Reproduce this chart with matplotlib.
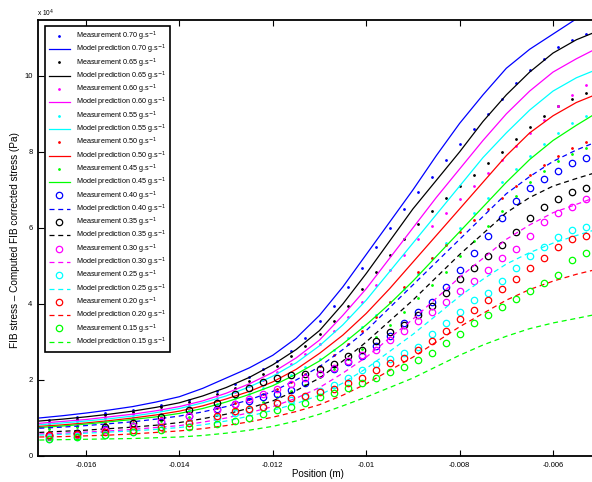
import matplotlib
matplotlib.use("Agg")
import matplotlib.pyplot as plt

plt.rcParams['font.family'] = ['Liberation Sans', 'DejaVu Sans']

# ---------------- data (stress in units of 1e4 Pa) ----------------
concentrations = ["0.70", "0.65", "0.60", "0.55", "0.50", "0.45",
                  "0.40", "0.35", "0.30", "0.25", "0.20", "0.15"]
colors = ["#0000ff", "#000000", "#ff00ff", "#00ffff", "#ff0000", "#00ff00",
          "#0000ff", "#000000", "#ff00ff", "#00ffff", "#ff0000", "#00ff00"]

# model prediction positions (m)
model_x = [-0.0170, -0.0165, -0.0160, -0.0155, -0.0150, -0.0145, -0.0140, -0.0135,
           -0.0130, -0.0125, -0.0120, -0.0115, -0.0110, -0.0105, -0.0100, -0.0095,
           -0.0090, -0.0085, -0.0080, -0.0075, -0.0070, -0.0065, -0.0060, -0.0055,
           -0.0051]
model_070 = [1.00, 1.06, 1.13, 1.21, 1.30, 1.42, 1.56, 1.78, 2.05, 2.32, 2.65, 3.10, 3.70,
             4.45, 5.30, 6.15, 7.00, 7.90, 8.75, 9.50, 10.20, 10.70, 11.10, 11.50, 11.80]
model_065 = [0.92, 0.97, 1.03, 1.10, 1.18, 1.28, 1.40, 1.58, 1.80, 2.07, 2.40, 2.80, 3.30,
             4.00, 4.80, 5.65, 6.50, 7.25, 8.00, 8.80, 9.50, 10.10, 10.60, 10.95, 11.15]
model_060 = [0.86, 0.91, 0.96, 1.03, 1.10, 1.19, 1.30, 1.45, 1.65, 1.90, 2.20, 2.58, 3.05,
             3.70, 4.40, 5.20, 6.00, 6.80, 7.55, 8.30, 9.00, 9.60, 10.10, 10.45, 10.70]
model_055 = [0.82, 0.87, 0.92, 0.98, 1.05, 1.14, 1.25, 1.40, 1.58, 1.82, 2.10, 2.45, 2.90,
             3.45, 4.10, 4.85, 5.60, 6.35, 7.10, 7.85, 8.50, 9.10, 9.60, 9.95, 10.15]
model_050 = [0.78, 0.82, 0.87, 0.93, 1.00, 1.08, 1.18, 1.32, 1.50, 1.70, 1.95, 2.28, 2.70,
             3.18, 3.75, 4.40, 5.10, 5.80, 6.50, 7.20, 7.90, 8.50, 8.95, 9.30, 9.50]
model_045 = [0.75, 0.79, 0.84, 0.90, 0.96, 1.03, 1.12, 1.25, 1.42, 1.62, 1.85, 2.15, 2.50,
             2.95, 3.45, 4.00, 4.60, 5.25, 5.90, 6.55, 7.20, 7.80, 8.30, 8.70, 9.00]
model_040 = [0.73, 0.76, 0.80, 0.85, 0.90, 0.97, 1.05, 1.16, 1.30, 1.48, 1.70, 2.00, 2.35,
             2.80, 3.30, 3.90, 4.50, 5.10, 5.70, 6.30, 6.90, 7.35, 7.75, 8.05, 8.25]
model_035 = [0.62, 0.65, 0.68, 0.72, 0.76, 0.81, 0.88, 0.98, 1.10, 1.26, 1.45, 1.72, 2.05,
             2.50, 3.00, 3.55, 4.10, 4.70, 5.30, 5.85, 6.40, 6.80, 7.10, 7.30, 7.45]
model_030 = [0.58, 0.60, 0.63, 0.66, 0.70, 0.75, 0.80, 0.89, 1.00, 1.14, 1.30, 1.52, 1.80,
             2.18, 2.60, 3.10, 3.60, 4.15, 4.70, 5.20, 5.70, 6.08, 6.40, 6.62, 6.80]
model_025 = [0.55, 0.57, 0.60, 0.63, 0.66, 0.70, 0.75, 0.82, 0.92, 1.05, 1.20, 1.38, 1.60,
             1.92, 2.30, 2.75, 3.20, 3.70, 4.20, 4.65, 5.05, 5.35, 5.60, 5.80, 5.95]
model_020 = [0.50, 0.51, 0.53, 0.55, 0.58, 0.62, 0.66, 0.72, 0.80, 0.90, 1.02, 1.17, 1.35,
             1.60, 1.90, 2.25, 2.60, 3.00, 3.40, 3.75, 4.10, 4.38, 4.60, 4.78, 4.90]
model_015 = [0.42, 0.43, 0.44, 0.45, 0.46, 0.48, 0.50, 0.54, 0.60, 0.68, 0.78, 0.92, 1.10,
             1.32, 1.55, 1.80, 2.05, 2.35, 2.65, 2.92, 3.15, 3.35, 3.50, 3.62, 3.72]

# measurement positions (m)
meas_x = [-0.0168, -0.0162, -0.0156, -0.0150, -0.0144, -0.0138, -0.0132,
          -0.0128, -0.0125, -0.0122, -0.0119, -0.0116, -0.0113, -0.0110,
          -0.0107, -0.0104, -0.0101, -0.0098, -0.0095, -0.0092, -0.0089,
          -0.0086, -0.0083, -0.0080, -0.0077, -0.0074, -0.0071, -0.0068,
          -0.0065, -0.0062, -0.0059, -0.0056, -0.0053]
meas_070 = [0.95, 1.03, 1.12, 1.22, 1.33, 1.48, 1.70, 1.90, 2.08, 2.28, 2.50, 2.75, 3.10,
            3.55, 3.95, 4.45, 4.95, 5.50, 6.00, 6.50, 6.95, 7.35, 7.80, 8.20, 8.60, 9.00,
            9.40, 9.80, 10.15, 10.45, 10.75, 10.95, 11.10]
meas_065 = [0.90, 0.98, 1.07, 1.17, 1.28, 1.42, 1.62, 1.80, 1.97, 2.15, 2.38, 2.62, 2.90,
            3.20, 3.55, 3.95, 4.40, 4.85, 5.30, 5.70, 6.10, 6.45, 6.80, 7.10, 7.40, 7.70,
            8.00, 8.35, 8.65, 8.95, 9.20, 9.40, 9.55]
meas_060 = [0.85, 0.92, 1.00, 1.10, 1.20, 1.33, 1.52, 1.68, 1.83, 2.00, 2.20, 2.42, 2.68,
            2.95, 3.28, 3.65, 4.05, 4.50, 4.90, 5.30, 5.70, 6.05, 6.40, 6.75, 7.10, 7.45,
            7.80, 8.15, 8.50, 8.85, 9.20, 9.50, 9.75]
meas_055 = [0.80, 0.86, 0.93, 1.02, 1.10, 1.22, 1.38, 1.52, 1.64, 1.78, 1.95, 2.13, 2.33,
            2.55, 2.80, 3.10, 3.40, 3.72, 4.05, 4.40, 4.80, 5.20, 5.60, 6.00, 6.40, 6.80,
            7.20, 7.55, 7.90, 8.20, 8.50, 8.75, 8.95]
meas_050 = [0.75, 0.80, 0.87, 0.95, 1.03, 1.13, 1.27, 1.40, 1.50, 1.62, 1.77, 1.95, 2.15,
            2.38, 2.65, 2.95, 3.30, 3.65, 4.05, 4.45, 4.85, 5.20, 5.55, 5.90, 6.20, 6.50,
            6.80, 7.10, 7.40, 7.65, 7.90, 8.10, 8.25]
meas_045 = [0.70, 0.75, 0.80, 0.86, 0.93, 1.02, 1.13, 1.23, 1.32, 1.42, 1.55, 1.70, 1.87,
            2.07, 2.30, 2.55, 2.82, 3.12, 3.45, 3.80, 4.15, 4.50, 4.85, 5.25, 5.65, 6.05,
            6.45, 6.85, 7.20, 7.50, 7.75, 7.95, 8.10]
meas_040 = [0.52, 0.60, 0.70, 0.78, 0.90, 1.05, 1.24, 1.37, 1.46, 1.55, 1.63, 1.74, 1.92,
            2.15, 2.30, 2.48, 2.62, 2.90, 3.15, 3.50, 3.80, 4.05, 4.45, 4.90, 5.35, 5.80,
            6.25, 6.70, 7.05, 7.30, 7.50, 7.70, 7.85]
meas_035 = [0.55, 0.60, 0.75, 0.88, 1.03, 1.20, 1.40, 1.62, 1.80, 1.95, 2.05, 2.12, 2.15,
            2.30, 2.42, 2.62, 2.80, 3.02, 3.25, 3.45, 3.70, 3.95, 4.30, 4.65, 4.95, 5.25,
            5.55, 5.90, 6.25, 6.55, 6.75, 6.95, 7.05]
meas_030 = [0.50, 0.55, 0.68, 0.80, 0.92, 1.05, 1.22, 1.38, 1.50, 1.62, 1.75, 1.90, 2.05,
            2.17, 2.32, 2.50, 2.65, 2.80, 3.05, 3.30, 3.55, 3.78, 4.05, 4.35, 4.60, 4.90,
            5.20, 5.45, 5.80, 6.15, 6.40, 6.55, 6.75]
meas_025 = [0.45, 0.50, 0.55, 0.62, 0.75, 0.88, 1.00, 1.12, 1.20, 1.30, 1.40, 1.48, 1.56,
            1.72, 1.87, 2.05, 2.25, 2.42, 2.55, 2.70, 2.87, 3.20, 3.50, 3.80, 4.10, 4.30,
            4.60, 4.95, 5.25, 5.50, 5.75, 5.95, 6.02]
meas_020 = [0.55, 0.58, 0.62, 0.68, 0.75, 0.87, 1.05, 1.18, 1.23, 1.28, 1.40, 1.52, 1.58,
            1.68, 1.76, 1.92, 2.05, 2.25, 2.45, 2.58, 2.80, 3.02, 3.30, 3.60, 3.85, 4.10,
            4.40, 4.65, 4.95, 5.20, 5.50, 5.70, 5.80]
meas_015 = [0.45, 0.50, 0.56, 0.62, 0.68, 0.76, 0.84, 0.92, 1.00, 1.10, 1.20, 1.30, 1.40,
            1.55, 1.66, 1.78, 1.92, 2.05, 2.20, 2.33, 2.52, 2.72, 2.98, 3.22, 3.50, 3.72,
            3.92, 4.12, 4.35, 4.55, 4.75, 5.15, 5.35]

models = [model_070, model_065, model_060, model_055, model_050, model_045,
          model_040, model_035, model_030, model_025, model_020, model_015]
measurements = [meas_070, meas_065, meas_060, meas_055, meas_050, meas_045,
                meas_040, meas_035, meas_030, meas_025, meas_020, meas_015]

x_ticks = [-0.016, -0.014, -0.012, -0.010, -0.008, -0.006]
x_ticklabels = ["-0.016", "-0.014", "-0.012", "-0.01", "-0.008", "-0.006"]
y_ticks = [0, 2, 4, 6, 8, 10]
y_ticklabels = ["0", "2", "4", "6", "8", "10"]

# ---------------- figure ----------------
W, H = 592, 482
fig = plt.figure(figsize=(W / 100, H / 100), dpi=100)
ax = fig.add_axes([38 / W, 26 / H, (W - 38) / W, 436 / H])

for i, (c, m, meas) in enumerate(zip(concentrations, models, measurements)):
    col = colors[i]
    if i < 6:
        ax.plot(meas_x, meas, linestyle='none', marker='.', markersize=2.0,
                color=col, label=f"Measurement {c} g.s$^{{-1}}$")
        ax.plot(model_x, m, linestyle='-', linewidth=0.9, color=col,
                label=f"Model prediction {c} g.s$^{{-1}}$")
    else:
        ax.plot(meas_x, meas, linestyle='none', marker='o', markersize=4.6,
                markerfacecolor='none', markeredgewidth=0.9, color=col,
                label=f"Measurement {c} g.s$^{{-1}}$")
        ax.plot(model_x, m, linestyle=(0, (4, 3)), linewidth=0.9, color=col,
                label=f"Model prediction {c} g.s$^{{-1}}$")

ax.set_xlim(-0.017028, -0.005165)
ax.set_ylim(0, 11.47)
ax.set_xticks(x_ticks)
ax.set_xticklabels(x_ticklabels)
ax.set_yticks(y_ticks)
ax.set_yticklabels(y_ticklabels)
ax.tick_params(direction='in', length=4, width=0.8, labelsize=5.5, pad=4,
               top=True, right=False)
for s in ['left', 'bottom', 'top']:
    ax.spines[s].set_linewidth(1.3)
ax.spines['right'].set_visible(False)

fig.text(318 / W, 1 - 474 / H, "Position (m)", ha='center', va='center', fontsize=7)
fig.text(15 / W, 1 - 240 / H, "FIB stress \u2013 Computed FIB corrected stress (Pa)",
         rotation=90, ha='center', va='center', fontsize=7.2)
fig.text(37 / W, 1 - 13 / H, r"x 10$^4$", ha='left', va='center', fontsize=4.8)

leg = ax.legend(loc='upper left', bbox_to_anchor=(45 / W, 1 - 26 / H),
                bbox_transform=fig.transFigure, borderaxespad=0,
                fontsize=5.2, labelspacing=0.0, handlelength=3.0,
                handletextpad=0.8, borderpad=0.5, fancybox=False,
                framealpha=1, edgecolor='black')
leg.get_frame().set_linewidth(1.2)

fig.savefig("out.png", dpi=100)
